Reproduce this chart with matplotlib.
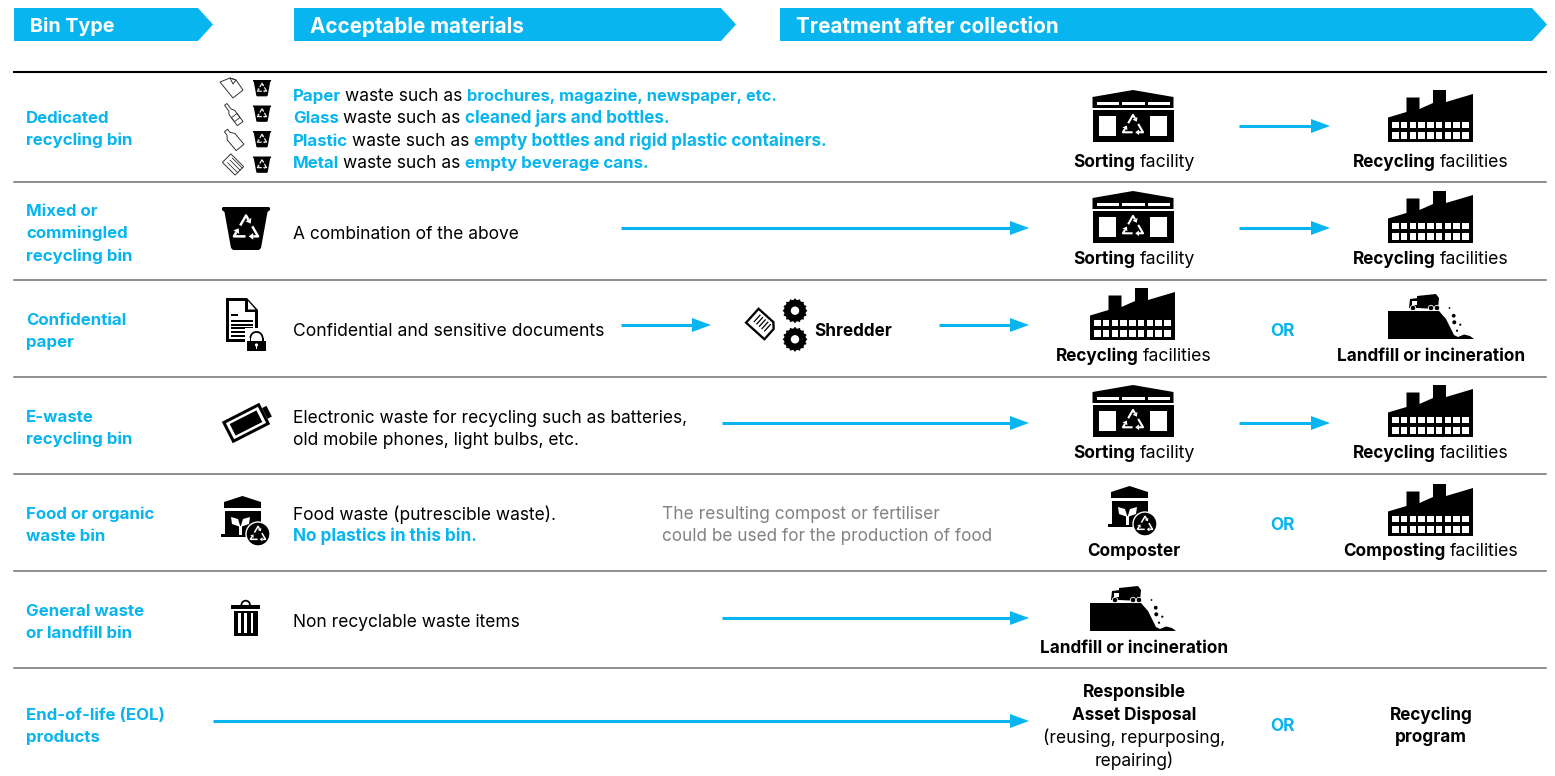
import numpy as np
import matplotlib
matplotlib.use('Agg')
import matplotlib.pyplot as plt
from matplotlib.patches import Polygon, Rectangle, Circle, Wedge

plt.rcParams['font.family'] = ['Inter', 'DejaVu Sans']

BLUE = '#08b5ee'
BLACK = '#000000'
GREY = '#808285'
FS = 12.5
FS_BOLD = 12.35
FS_LABEL = 12.15

# the chart's words
headers = ['Bin Type', 'Acceptable materials', 'Treatment after collection']
bin_types = [
    ['Dedicated', 'recycling bin'],
    ['Mixed or', 'commingled', 'recycling bin'],
    ['Confidential', 'paper'],
    ['E-waste', 'recycling bin'],
    ['Food or organic', 'waste bin'],
    ['General waste', 'or landfill bin'],
    ['End-of-life (EOL)', 'products'],
]
materials = ['Paper', 'Glass', 'Plastic', 'Metal']
examples = [
    'brochures, magazine, newspaper, etc.',
    'cleaned jars and bottles.',
    'empty bottles and rigid plastic containers.',
    'empty beverage cans.',
]
row_lines = [182, 280, 377, 474, 571, 668]

fig = plt.figure(figsize=(15.55, 7.76), dpi=100)
ax = fig.add_axes([0, 0, 1, 1])
ax.set_xlim(0, 1555)
ax.set_ylim(776, 0)
ax.axis('off')


def poly(pts, color=BLACK, **kw):
    ax.add_patch(Polygon(pts, closed=True, fc=color, ec='none', **kw))


def rect(x, y, w, h, color=BLACK):
    ax.add_patch(Rectangle((x, y), w, h, fc=color, ec='none'))


def txt(x, y, s, color=BLACK, bold=False, ha='left', size=None):
    if size is None:
        size = FS_BOLD if bold else FS
    return ax.text(x, y - 0.4, s, color=color, fontsize=size, ha=ha, va='center_baseline',
                   fontweight='bold' if bold else 'normal')


def width_of(s, bold, size):
    t = txt(0, 0, s, bold=bold, size=size)
    w = t.get_window_extent(fig.canvas.get_renderer()).width
    t.remove()
    return w


def line_width(parts):
    total = 0
    for s, color, bold, size in parts:
        total += width_of(s.strip(), bold, size)
        if s.endswith(' '):
            total += width_of('a a', bold, size) - width_of('aa', bold, size)
    return total


def segs(x, y, parts):
    # mixed colour / weight on one line, parts are (text, color, bold, size)
    for part in parts:
        s, color, bold, size = part
        txt(x, y, s.strip(), color=color, bold=bold, size=size)
        x += line_width([part])


def centered(cx, y, parts):
    segs(cx - line_width(parts) / 2, y, parts)


def banner(x0, x1, label, size=14.85):
    poly([(x0, 8), (x1 - 15, 8), (x1, 24.5), (x1 - 15, 41), (x0, 41)], color=BLUE)
    txt(x0 + 15.5, 25, label, color='white', bold=True, size=size)


def arrow(x0, x1, y):
    ax.plot([x0, x1 - 15], [y, y], color=BLUE, lw=2.2, solid_capstyle='butt')
    poly([(x1 - 19, y - 7), (x1, y), (x1 - 19, y + 7)], color=BLUE)


def recycle(cx, cy, s, color='white'):
    # three arrows bent round the corners of a triangle, s is about the full width
    c = np.array([cx, cy + s * 0.1])
    corners = []
    for ang in (90, 330, 210):
        a = np.radians(ang)
        corners.append(c + np.array([np.cos(a), -np.sin(a)]) * s * 0.58)
    lw = max(0.8, s * 0.075)
    for i in range(3):
        prev, cur, nxt = corners[i - 1], corners[i], corners[(i + 1) % 3]
        start = prev + (cur - prev) * 0.52
        end = cur + (nxt - cur) * 0.2
        ax.plot([start[0], cur[0], end[0]], [start[1], cur[1], end[1]], color=color, lw=lw,
                solid_capstyle='butt', solid_joinstyle='round')
        d = (nxt - cur) / np.linalg.norm(nxt - cur)
        n = np.array([-d[1], d[0]])
        poly([end + d * s * 0.19, end + n * s * 0.14, end - n * s * 0.14], color=color)


def sorting(cx, bottom):
    x = cx - 40.5
    t = bottom - 52
    poly([(x, t + 7), (cx, t), (x + 81, t + 7), (x + 81, t + 18), (x, t + 18)])
    for i in range(3):
        rect(x + 4 + i * 25.7, t + 11.5, 22.5, 3, 'white')
    rect(x, t + 20, 81, 32)
    rect(x + 6.5, t + 26, 17, 20, 'white')
    rect(x + 57.5, t + 26, 17, 20, 'white')
    recycle(cx, t + 34.5, 20)


def factory(x, bottom):
    poly([(x, bottom), (x, bottom - 24.5), (x + 18.5, bottom - 30), (x + 18.5, bottom - 44.5),
          (x + 31.5, bottom - 44.5), (x + 31.5, bottom - 33), (x + 45, bottom - 39),
          (x + 45, bottom - 52), (x + 58, bottom - 52), (x + 58, bottom - 40),
          (x + 85, bottom - 48), (x + 85, bottom)])
    for r in (0, 10.5):
        for i in range(9):
            rect(x + 4 + i * 8.75, bottom - 20.5 + r, 6.6, 6.9, 'white')


def landfill(x, bottom):
    poly([(x, bottom), (x, bottom - 28), (x + 51, bottom - 28), (x + 58, bottom - 20),
          (x + 66, bottom - 4), (x + 70, bottom - 2), (x + 76, bottom - 4.5),
          (x + 82, bottom - 3), (x + 86, bottom)])
    # truck
    poly([(x + 29, bottom - 43), (x + 48, bottom - 45), (x + 51, bottom - 41), (x + 50, bottom - 30),
          (x + 29, bottom - 31)])
    poly([(x + 21, bottom - 31), (x + 22, bottom - 40), (x + 30, bottom - 41), (x + 30, bottom - 31)])
    rect(x + 23.5, bottom - 38.5, 5, 4, 'white')
    for wx in (x + 25, x + 43, x + 49):
        ax.add_patch(Circle((wx, bottom - 31), 2.7, fc=BLACK, ec='white', lw=0.6))
    for dx, dy, r in ((61.5, -31, 0.9), (65.7, -23.3, 1.9), (66.3, -16.7, 2), (72.3, -14.3, 1.1), (69, -8.3, 1.1)):
        ax.add_patch(Circle((x + dx, bottom + dy), r, fc=BLACK, ec='none'))


def composter(x, y):
    # x, y is the top-left of the roof
    poly([(x, y + 6), (x + 18.5, y), (x + 37, y + 6), (x + 37, y + 12), (x, y + 12)])
    rect(x + 1, y + 15, 36, 26)
    rect(x - 3, y + 38, 20, 3)
    # plant
    rect(x + 15, y + 30, 3, 9, 'white')
    poly([(x + 16.5, y + 31), (x + 8, y + 28), (x + 7, y + 21), (x + 14, y + 23)], color='white')
    poly([(x + 16.5, y + 31), (x + 25, y + 28), (x + 26, y + 21), (x + 19, y + 23)], color='white')
    ax.add_patch(Circle((x + 34, y + 38), 12, fc=BLACK, ec='white', lw=1))
    recycle(x + 34, y + 37.5, 15)


def bin_icon(cx, top, k=1.0):
    poly([(cx - 24 * k, top + 1 * k), (cx - 23 * k, top), (cx + 23 * k, top), (cx + 24 * k, top + 1 * k),
          (cx + 24 * k, top + 3 * k), (cx + 21.5 * k, top + 5 * k), (cx + 15 * k, top + 41 * k), (cx + 13 * k, top + 43 * k),
          (cx - 13 * k, top + 43 * k), (cx - 15 * k, top + 41 * k), (cx - 21.5 * k, top + 5 * k), (cx - 24 * k, top + 3 * k)])
    recycle(cx, top + 20 * k, 24 * k)


def outline(pts, lw=0.7):
    ax.add_patch(Polygon(pts, closed=True, fc='none', ec='#333333', lw=lw))


def rotated(pts, cx, cy, deg):
    a = np.radians(deg)
    m = np.array([[np.cos(a), -np.sin(a)], [np.sin(a), np.cos(a)]])
    return np.array(pts) @ m.T + [cx, cy]


def small_icons():
    # paper
    outline([(220, 82), (230, 78), (236, 80), (243, 90), (233, 98)])
    outline([(230, 78), (233, 84), (236, 80)])
    # glass bottle
    outline(rotated([(-1.5, -12), (1.5, -12), (1.5, -5), (3.5, -2), (3.5, 12), (-3.5, 12), (-3.5, -2), (-1.5, -5)], 233, 114, -37))
    p = rotated([(-3.5, 2), (3.5, 2), (3.5, 7), (-3.5, 7)], 233, 114, -37)
    outline(p, lw=0.6)
    # plastic bottle
    outline(rotated([(-5, 11), (5, 11), (5, -3), (2, -7), (2, -11), (-2, -11), (-2, -7), (-5, -3)], 233, 139, -40))
    # can
    outline(rotated([(-6, -9), (6, -9), (6, 9), (-6, 9)], 233, 164.5, -45))
    for d in (-2.5, 1, 4):
        p = rotated([(d, -5), (d, 9)], 233, 164.5, -45)
        ax.plot(p[:, 0], p[:, 1], color='#333333', lw=0.6)
    for top in (80, 105.5, 131, 156.5):
        bin_icon(262, top, 0.38)


def doc_icon():
    poly([(226, 298), (247, 298), (258, 310), (258, 342), (226, 342)])
    poly([(229, 301), (245, 301), (245, 312), (255, 312), (255, 339), (229, 339)], color='white')
    poly([(248, 301), (255.5, 309.5), (248, 309.5)], color='white')
    rect(231, 314, 7, 2)
    for ly in (320, 323.5, 327, 330.5, 334.5):
        rect(231, ly, 21.5, 2.2)
    rect(244.5, 328, 24, 25, 'white')
    ax.add_patch(Wedge((256.5, 338), 7, 180, 360, width=1.8, fc=BLACK, ec='none'))
    rect(247.2, 340.5, 19, 10.8)
    rect(249.5, 337.5, 1.8, 4)
    rect(261.7, 337.5, 1.8, 4)
    ax.add_patch(Circle((256.5, 345), 1.6, fc='white', ec='none'))
    rect(255.8, 345, 1.4, 3.5, 'white')


def battery_icon():
    cx, cy, a = 246, 423, -27
    poly(rotated([(-21, -12), (21, -12), (21, 12), (-21, 12)], cx, cy, a))
    poly(rotated([(-18, -9), (18, -9), (18, 9), (-18, 9)], cx, cy, a), color='white')
    poly(rotated([(-15, -6.5), (15, -6.5), (15, 6.5), (-15, 6.5)], cx, cy, a))
    poly(rotated([(21, -6), (26, -6), (26, 6), (21, 6)], cx, cy, a))


def trash_icon():
    ax.add_patch(Wedge((245.7, 605), 5.2, 180, 360, width=1.8, fc=BLACK, ec='none'))
    rect(231, 605, 29, 3.8)
    rect(233.7, 610.7, 24, 25)
    for lx in (238.3, 244.4, 250.7):
        rect(lx, 612.7, 2.6, 20.5, 'white')


def shredder_icon():
    poly(rotated([(-13.5, -10.5), (8, -10.5), (13.5, -5), (13.5, 10.5), (-13.5, 10.5)], 761.5, 324, 42))
    poly(rotated([(-11.2, -8.2), (7, -8.2), (11.2, -4), (11.2, 8.2), (-11.2, 8.2)], 761.5, 324, 42), color='white')
    for d in (-7, -3.5, 0, 3.5, 7):
        p = rotated([(d, -5.5), (d, 3)], 761.5, 324, 42)
        ax.plot(p[:, 0], p[:, 1], color=BLACK, lw=0.9)
    for gy in (310.7, 339.3):
        ax.add_patch(Circle((795, gy), 11, fc=BLACK, ec='none'))
        for i in range(16):
            a = i * np.pi / 8
            ax.add_patch(Circle((795 + 11.2 * np.cos(a), gy + 11.2 * np.sin(a)), 1.0, fc=BLACK, ec='none'))
        ax.add_patch(Circle((795, gy), 4.2, fc='white', ec='none'))


# header banners
banner(14, 213, headers[0], size=14.2)
banner(294, 736, headers[1])
banner(780, 1547, headers[2])

# rules
ax.plot([14, 1546], [72, 72], color=BLACK, lw=1.5)
for y in row_lines:
    ax.plot([14, 1546], [y, y], color='#6f7072', lw=1.1)

# bin type labels
label_y = [[117, 139], [210, 232, 255], [319, 341], [416, 438], [513, 535], [610, 632], [714, 736]]
for lines, ys in zip(bin_types, label_y):
    for s, y in zip(lines, ys):
        txt(26, y, s, color=BLUE, bold=True, size=FS_LABEL)

# first row materials
example_sizes = [11.85, 12.3, 12.35, 12.15]
for m, ex, size, y in zip(materials, examples, example_sizes, [95, 117, 140, 162]):
    segs(293, y, [(m + ' ', BLUE, True, 12.15), ('waste such as ', BLACK, False, 12.5), (ex, BLUE, True, size)])

txt(293, 233, 'A combination of the above')
txt(293, 330, 'Confidential and sensitive documents', size=12.65)
txt(814, 330, 'Shredder', bold=True)
txt(293, 417, 'Electronic waste for recycling such as batteries,')
txt(293, 439, 'old mobile phones, light bulbs, etc.')
txt(293, 513, 'Food waste (putrescible waste).')
txt(293, 535, 'No plastics in this bin.', color=BLUE, bold=True)
txt(662, 513, 'The resulting compost or fertiliser', color=GREY)
txt(662, 535, 'could be used for the production of food', color=GREY, size=12.35)
txt(293, 621, 'Non recyclable waste items')

# arrows
arrow(1239, 1330, 126)
arrow(621, 1029, 228)
arrow(1239, 1330, 228)
arrow(621, 711, 325)
arrow(939, 1029, 325)
arrow(722, 1029, 423)
arrow(1239, 1330, 423)
arrow(722, 1029, 618)
arrow(213, 1029, 721)

# treatment columns
sort_parts = [('Sorting ', BLACK, True, 12.5), ('facility', BLACK, False, 12.8)]
recy_parts = [('Recycling ', BLACK, True, 12.35), ('facilities', BLACK, False, 12.7)]
for y in (161, 258, 452):
    centered(1134, y, sort_parts)
    centered(1431, y, recy_parts)
centered(1134, 355, recy_parts)
txt(1431, 355, 'Landfill or incineration', bold=True, ha='center')
txt(1134, 550, 'Composter', bold=True, ha='center')
centered(1431, 550, [('Composting ', BLACK, True, 12.35), ('facilities', BLACK, False, 12.7)])
txt(1134, 647, 'Landfill or incineration', bold=True, ha='center')
txt(1134, 691, 'Responsible', bold=True, ha='center')
txt(1134, 714, 'Asset Disposal', bold=True, ha='center')
txt(1134, 736, '(reusing, repurposing,', ha='center')
txt(1134, 759, 'repairing)', ha='center')
txt(1431, 714, 'Recycling', bold=True, ha='center')
txt(1431, 736, 'program', bold=True, ha='center')
for y in (330, 524, 725):
    txt(1282, y, 'OR', color=BLUE, bold=True, ha='center')

# icons
small_icons()
bin_icon(246, 207)
doc_icon()
shredder_icon()
battery_icon()
composter(224, 496)
trash_icon()
sorting(1133, 142)
sorting(1133, 243)
sorting(1133, 437)
factory(1388, 142)
factory(1388, 243)
factory(1388, 437)
factory(1388, 536)
factory(1090, 340)
landfill(1388, 339)
landfill(1090, 631)
composter(1111, 486)

fig.savefig('out.png', dpi=100)
